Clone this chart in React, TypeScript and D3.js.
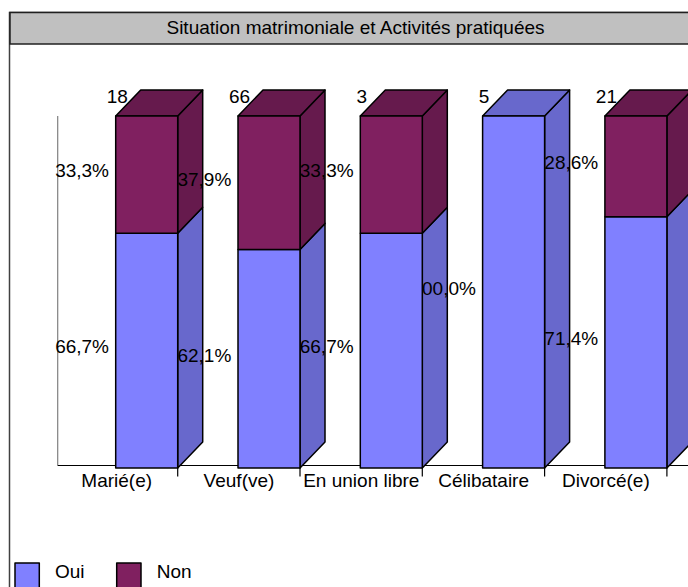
import React from "react";
import * as d3 from "d3";

// Marital status categories and the share of people practising an activity
const categories = ["Marié(e)", "Veuf(ve)", "En union libre", "Célibataire", "Divorcé(e)"];
const counts = [18, 66, 3, 5, 21];
const ouiPct = [66.7, 62.1, 66.7, 100.0, 71.4];
const nonPct = [33.3, 37.9, 33.3, 0.0, 28.6];
const seriesNames = ["Oui", "Non"];

const W = 688;
const H = 587;
const FONT = "'Liberation Sans', Arial, Helvetica, sans-serif";
const FS = 19;

const colors = {
  ouiFront: "#8080FF",
  ouiSide: "#6868CC",
  nonFront: "#802060",
  nonSide: "#661A4D",
};

const DX = 25; // depth offset of the 3D columns
const DY = 26;
const BAR_W = 62;

const fmt = (v: number) => v.toFixed(1).replace(".", ",") + "%";

export default function App() {
  const x = d3.scaleBand<string>().domain(categories).range([55.4, 55.4 + 5 * 122.3]).padding(0);
  const y = d3.scaleLinear().domain([0, 100]).range([468, 116]);
  const axisY = 465.5;

  const bars = categories.map((c, i) => {
    const right = (x(c) as number) + x.bandwidth();
    const left = right - BAR_W;
    const yTop = y(ouiPct[i] + nonPct[i]);
    const ySplit = y(ouiPct[i]);
    const yBase = y(0);
    return { c, i, left, right, yTop, ySplit, yBase };
  });

  const poly = (pts: [number, number][]) => pts.map((p) => p.join(",")).join(" ");
  const stroke = { stroke: "#000", strokeWidth: 1.5, strokeLinejoin: "round" as const };

  return (
    <svg
      width={W}
      height={H}
      style={{ position: "absolute", left: 0, top: 0, display: "block", overflow: "hidden" }}
      fontFamily={FONT}
    >
      <rect x={0} y={0} width={W} height={H} fill="#fff" />
      {/* outer frame and title bar */}
      <rect x={9.5} y={12.5} width={W + 20} height={H + 20} fill="#fff" stroke="#404040" strokeWidth={1.5} />
      <rect x={10} y={12.5} width={W + 20} height={31.5} fill="#C0C0C0" stroke="#202020" strokeWidth={1.5} />
      <text x={355.5} y={34.3} textAnchor="middle" fontSize={FS} fill="#000">
        Situation matrimoniale et Activités pratiquées
      </text>

      {/* axes */}
      <line x1={57.7} x2={57.7} y1={y(100)} y2={axisY} stroke="#808080" strokeWidth={1.2} />
      <line x1={57.7} x2={W} y1={axisY} y2={axisY} stroke="#000" strokeWidth={1.2} />
      {bars.map((b) => (
        <line key={"t" + b.i} x1={b.right} x2={b.right} y1={axisY} y2={476.5} stroke="#000" strokeWidth={1.2} />
      ))}

      {/* side and top faces */}
      {bars.map((b) => {
        const hasNon = nonPct[b.i] > 0;
        return (
          <g key={"s" + b.i}>
            <polygon
              points={poly([
                [b.right, b.ySplit],
                [b.right + DX, b.ySplit - DY],
                [b.right + DX, b.yBase - DY],
                [b.right, b.yBase],
              ])}
              fill={colors.ouiSide}
              {...stroke}
            />
            {hasNon && (
              <polygon
                points={poly([
                  [b.right, b.yTop],
                  [b.right + DX, b.yTop - DY],
                  [b.right + DX, b.ySplit - DY],
                  [b.right, b.ySplit],
                ])}
                fill={colors.nonSide}
                {...stroke}
              />
            )}
            <polygon
              points={poly([
                [b.left, b.yTop],
                [b.left + DX, b.yTop - DY],
                [b.right + DX, b.yTop - DY],
                [b.right, b.yTop],
              ])}
              fill={hasNon ? colors.nonSide : colors.ouiSide}
              {...stroke}
            />
          </g>
        );
      })}

      {/* percentage labels */}
      {bars.map((b) => {
        const lx = b.left - 6.7;
        const out = [];
        if (ouiPct[b.i] > 0)
          out.push(
            <text key={"o" + b.i} x={lx} y={(b.ySplit + b.yBase) / 2 + 2.8} textAnchor="end" fontSize={FS}>
              {fmt(ouiPct[b.i])}
            </text>
          );
        if (nonPct[b.i] > 0)
          out.push(
            <text key={"n" + b.i} x={lx} y={(b.yTop + b.ySplit) / 2 + 2.8} textAnchor="end" fontSize={FS}>
              {fmt(nonPct[b.i])}
            </text>
          );
        return <g key={"l" + b.i}>{out}</g>;
      })}

      {/* front faces */}
      {bars.map((b) => (
        <g key={"f" + b.i}>
          <rect x={b.left} y={b.ySplit} width={BAR_W} height={b.yBase - b.ySplit} fill={colors.ouiFront} {...stroke} />
          {nonPct[b.i] > 0 && (
            <rect x={b.left} y={b.yTop} width={BAR_W} height={b.ySplit - b.yTop} fill={colors.nonFront} {...stroke} />
          )}
        </g>
      ))}

      {/* counts above columns */}
      {bars.map((b) => (
        <text key={"c" + b.i} x={b.left + 1.5} y={103} textAnchor="middle" fontSize={FS}>
          {counts[b.i]}
        </text>
      ))}

      {/* category labels */}
      {bars.map((b) => (
        <text key={"x" + b.i} x={b.left + 1} y={487} textAnchor="middle" fontSize={FS}>
          {b.c}
        </text>
      ))}

      {/* legend */}
      {seriesNames.map((s, k) => (
        <g key={"lg" + k} transform={`translate(${15 + k * 101.7},563)`}>
          <rect x={0} y={0} width={24.3} height={26} fill={k === 0 ? colors.ouiFront : colors.nonFront} {...stroke} />
          <text x={40} y={15} fontSize={FS}>
            {s}
          </text>
        </g>
      ))}
    </svg>
  );
}
